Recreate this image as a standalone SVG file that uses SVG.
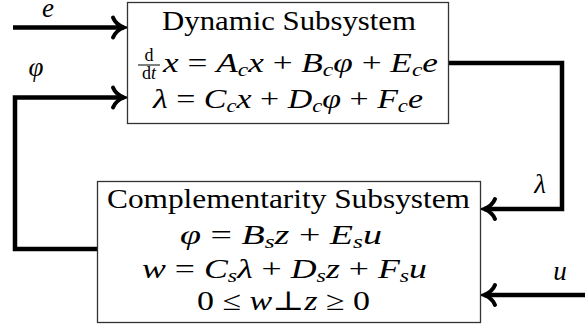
<svg xmlns="http://www.w3.org/2000/svg" width="585" height="326" viewBox="0 0 585 326" font-family="'Liberation Serif', 'DejaVu Serif', serif">
<style>
  text { font-family: "Liberation Serif", "DejaVu Serif", serif; font-size: 27px; fill: #000; }
  .i { font-style: italic; }
  .s { font-size: 18px; font-style: italic; }
  .f { font-size: 18px; }
  .box { fill: #fff; stroke: #333; stroke-width: 1.3; }
  .wire { fill: none; stroke: #000; stroke-width: 4.5; stroke-linejoin: miter; }
</style>
<defs>
  <marker id="ah" markerUnits="userSpaceOnUse" viewBox="-14 -14 16 28" refX="0" refY="0" markerWidth="16" markerHeight="28" orient="auto" overflow="visible">
    <path d="M-11,-10 C-9,-5 -4,-1.5 0,0 C-4,1.5 -9,5 -11,10" fill="none" stroke="#000" stroke-width="4" stroke-linecap="round"/>
  </marker>
</defs>

<g id="connectors">
  <path class="wire" d="M13,27.5 H124" marker-end="url(#ah)"/>
  <path class="wire" d="M97,249 H15 V97.5 H124" marker-end="url(#ah)"/>
  <path class="wire" d="M449,63 H562 V209 H484" marker-end="url(#ah)"/>
  <path class="wire" d="M585,295 H484" marker-end="url(#ah)"/>
  <text class="i" x="48" y="17" text-anchor="middle">e</text>
  <text class="i" x="36" y="76" text-anchor="middle">φ</text>
  <text class="i" x="540" y="193" text-anchor="middle">λ</text>
  <text class="i" x="560" y="280" text-anchor="middle">u</text>
</g>

<g id="dynamic">
  <rect class="box" x="127.5" y="2.5" width="321" height="121"/>
  <text x="162" y="30" textLength="254" lengthAdjust="spacingAndGlyphs">Dynamic Subsystem</text>
  <text class="f" x="149" y="61" text-anchor="middle">d</text>
  <line x1="138" y1="65" x2="160" y2="65" stroke="#000" stroke-width="1"/>
  <text class="f" x="149" y="79" text-anchor="middle">d<tspan class="i">t</tspan></text>
  <text x="163" y="72" textLength="275" lengthAdjust="spacingAndGlyphs"><tspan class="i">x</tspan> = <tspan class="i">A</tspan><tspan class="s" dy="4">c</tspan><tspan class="i" dy="-4">x</tspan> + <tspan class="i">B</tspan><tspan class="s" dy="4">c</tspan><tspan class="i" dy="-4">φ</tspan> + <tspan class="i">E</tspan><tspan class="s" dy="4">c</tspan><tspan class="i" dy="-4">e</tspan></text>
  <text x="153" y="108" textLength="270" lengthAdjust="spacingAndGlyphs"><tspan class="i">λ</tspan> = <tspan class="i">C</tspan><tspan class="s" dy="4">c</tspan><tspan class="i" dy="-4">x</tspan> + <tspan class="i">D</tspan><tspan class="s" dy="4">c</tspan><tspan class="i" dy="-4">φ</tspan> + <tspan class="i">F</tspan><tspan class="s" dy="4">c</tspan><tspan class="i" dy="-4">e</tspan></text>
</g>

<g id="complementarity">
  <rect class="box" x="97.5" y="181.5" width="383" height="141"/>
  <text x="107" y="208" textLength="363" lengthAdjust="spacingAndGlyphs">Complementarity Subsystem</text>
  <text x="180" y="244" textLength="202" lengthAdjust="spacingAndGlyphs"><tspan class="i">φ</tspan> = <tspan class="i">B</tspan><tspan class="s" dy="4">s</tspan><tspan class="i" dy="-4">z</tspan> + <tspan class="i">E</tspan><tspan class="s" dy="4">s</tspan><tspan class="i" dy="-4">u</tspan></text>
  <text x="142" y="278" textLength="285" lengthAdjust="spacingAndGlyphs"><tspan class="i">w</tspan> = <tspan class="i">C</tspan><tspan class="s" dy="4">s</tspan><tspan class="i" dy="-4">λ</tspan> + <tspan class="i">D</tspan><tspan class="s" dy="4">s</tspan><tspan class="i" dy="-4">z</tspan> + <tspan class="i">F</tspan><tspan class="s" dy="4">s</tspan><tspan class="i" dy="-4">u</tspan></text>
  <text x="197" y="310" textLength="173" lengthAdjust="spacingAndGlyphs">0 ≤ <tspan class="i">w</tspan>⊥<tspan class="i">z</tspan> ≥ 0</text>
</g>
</svg>
